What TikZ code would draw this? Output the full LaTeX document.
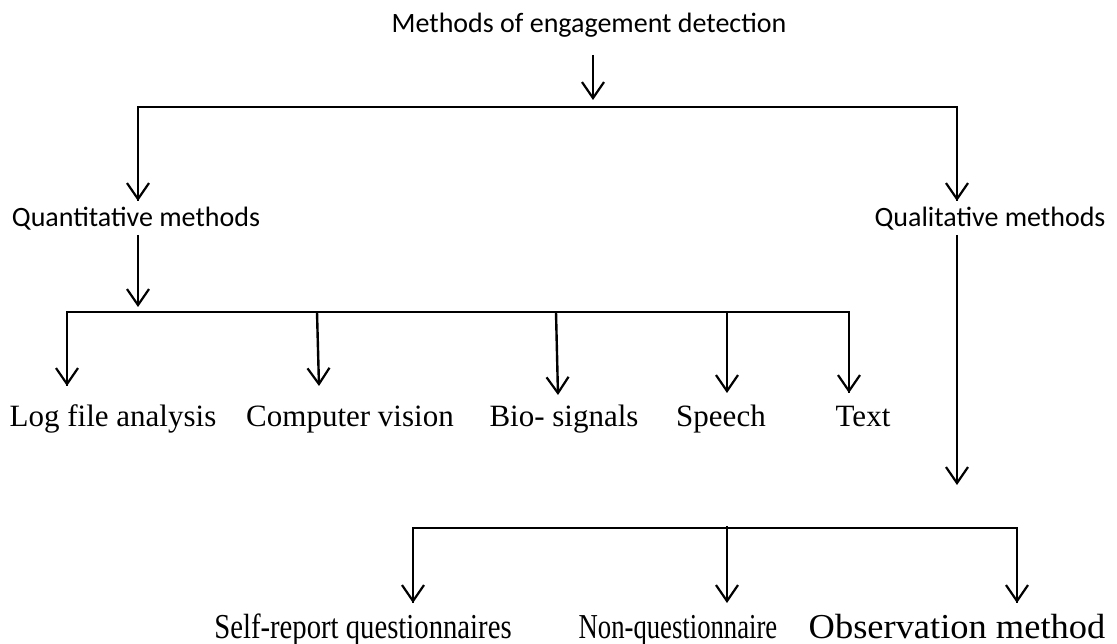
\documentclass[tikz,border=0pt]{standalone}
\usepackage{fontspec}
\setmainfont{Liberation Serif}
\newfontfamily\calib{Carlito}
\usetikzlibrary{arrows.meta}
\begin{document}
\begin{tikzpicture}[x=1pt,y=-1pt,
  sanslbl/.style={font=\calib\fontsize{28}{32}\selectfont, inner sep=0pt, anchor=base},
  seriflbl/.style={font=\fontsize{31}{36}\selectfont, inner sep=0pt, anchor=base},
  lowlbl/.style={font=\fontsize{35}{40}\selectfont, inner sep=0pt, anchor=base, xscale=0.82},
  arr/.style={line width=2.4pt, -{Straight Barb[length=16pt,width=22pt,line width=2.2pt]}},
  bar/.style={line width=2.8pt},
  thinbar/.style={line width=1.8pt}]
\useasboundingbox (0,0) rectangle (1117,644);
% labels
\node[sanslbl] (title) at (589,33) {Methods of engagement detection};
\node[sanslbl] (quant) at (136,227) {Quantitative methods};
\node[sanslbl] (qual) at (990,227) {Qualitative methods};
\node[seriflbl] (log) at (113,426) {Log file analysis};
\node[seriflbl] (cv) at (350,426) {Computer vision};
\node[seriflbl] (bio) at (564,426) {Bio- signals};
\node[seriflbl] (speech) at (721,426) {Speech};
\node[seriflbl] (text) at (863,426) {Text};
\node[lowlbl] (self) at (363,638) {Self-report questionnaires};
\node[lowlbl, xscale=0.93] (nonq) at (678,638) {Non-questionnaire};
\node[lowlbl, xscale=1.27] (obs) at (957,638) {Observation method};
% coordinates
\coordinate (t0) at (593,55);
\coordinate (t1) at (593,100);
\coordinate (bl) at (138,107);
\coordinate (br) at (957,107);
\coordinate (bla) at (138,201);
\coordinate (bra) at (957,201);
\coordinate (q0) at (138,235);
\coordinate (q1) at (138,307);
\coordinate (h1) at (67,312);
\coordinate (h2) at (849,312);
\coordinate (a1) at (67,386);
\coordinate (s1) at (317,312);
\coordinate (a2) at (319,386);
\coordinate (s3) at (556,312);
\coordinate (a3) at (558,395);
\coordinate (s4) at (727,312);
\coordinate (a4) at (727,393);
\coordinate (a5) at (849,393);
\coordinate (r0) at (957,235);
\coordinate (r1) at (957,485);
\coordinate (g1) at (413,528);
\coordinate (g2) at (1017,528);
\coordinate (gs) at (727,526);
\coordinate (b1) at (413,603);
\coordinate (b2) at (727,603);
\coordinate (b3) at (1017,603);
% connectors
\draw[arr] (t0) -- (t1);
\draw[bar] (bla) -- (bl) -- (br) -- (bra);
\draw[arr] (bl) -- (bla);
\draw[arr] (br) -- (bra);
\draw[arr] (q0) -- (q1);
\draw[bar] (a1) -- (h1) -- (h2) -- (a5);
\draw[arr] (h1) -- (a1);
\draw[arr] (s1) -- (a2);
\draw[arr] (s3) -- (a3);
\draw[arr] (s4) -- (a4);
\draw[arr] (h2) -- (a5);
\draw[arr] (r0) -- (r1);
\draw[thinbar] (b1) -- (g1) -- (g2) -- (b3);
\draw[arr, line width=1.8pt] (g1) -- (b1);
\draw[arr, line width=1.8pt] (gs) -- (b2);
\draw[arr, line width=1.8pt] (g2) -- (b3);
\end{tikzpicture}
\end{document}
